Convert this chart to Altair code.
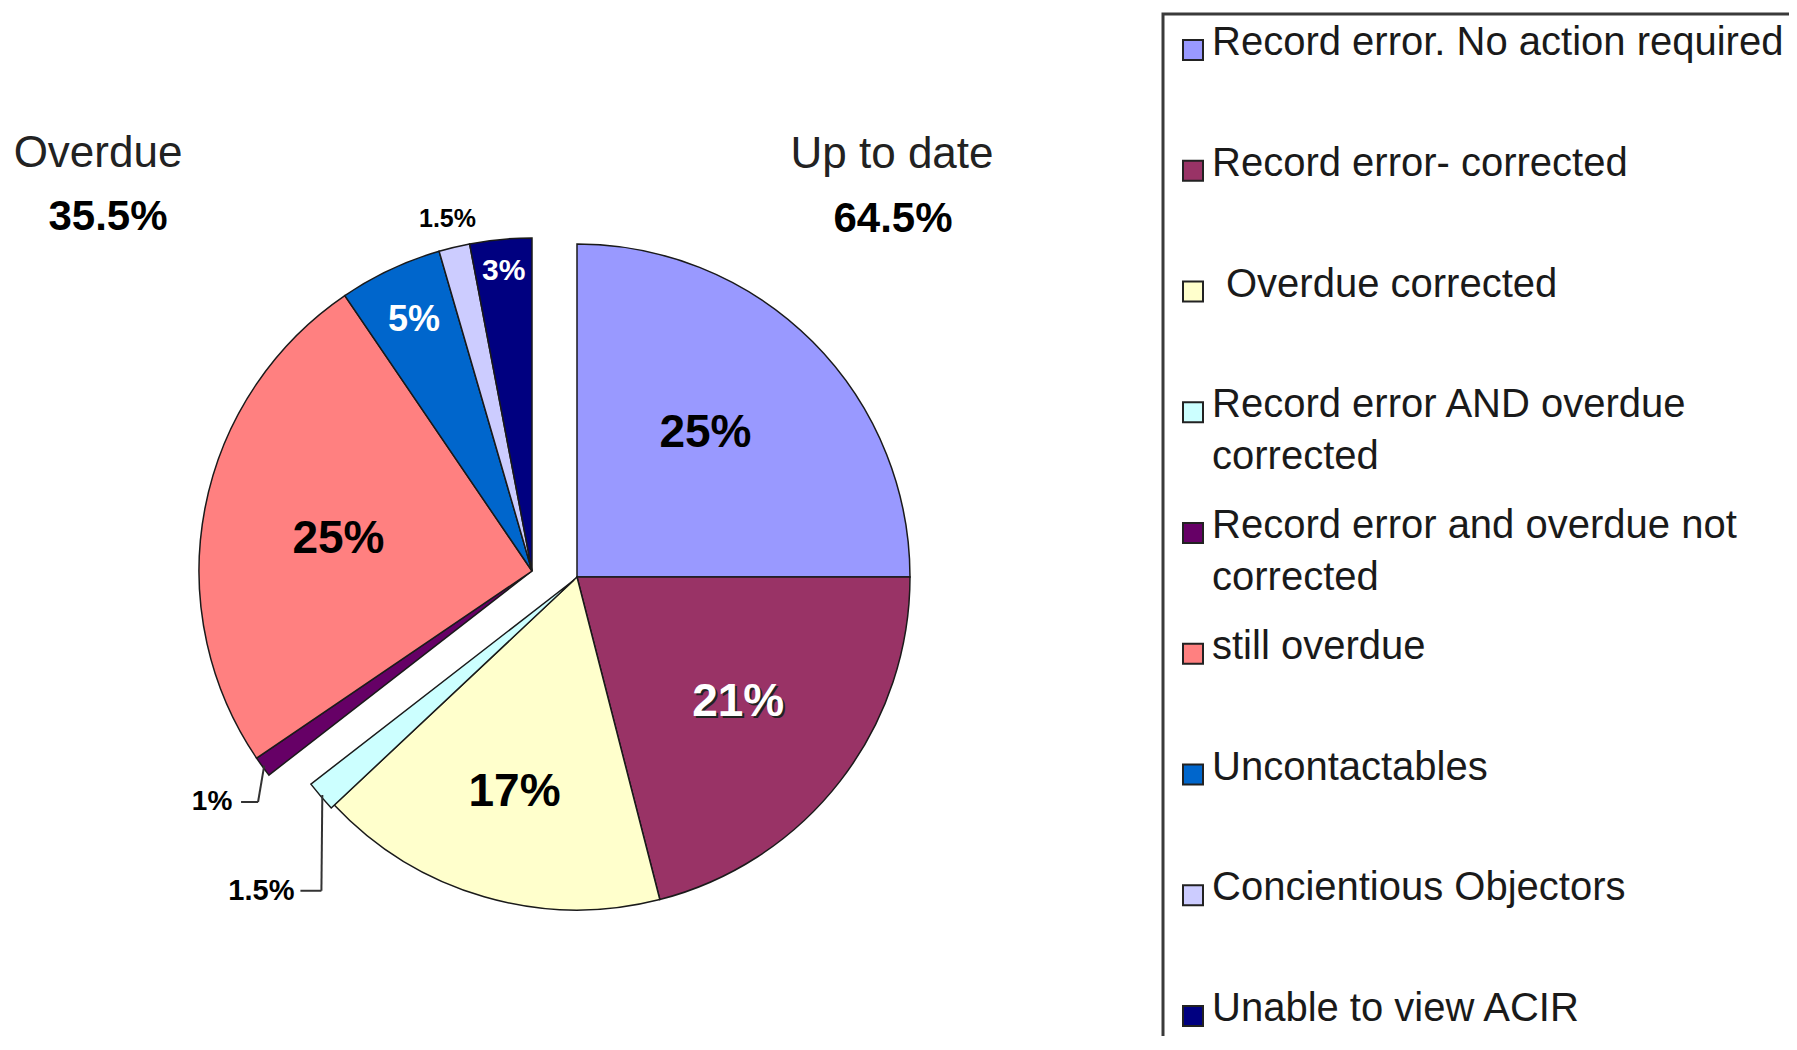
import altair as alt
import pandas as pd

# ---------------- data ----------------
categories = [
    "Record error. No action required",
    "Record error- corrected",
    "Overdue corrected",
    "Record error AND overdue corrected",
    "Record error and overdue not corrected",
    "still overdue",
    "Uncontactables",
    "Concientious Objectors",
    "Unable to view ACIR",
]
legend_labels = [
    "Record error. No action required",
    "Record error- corrected",
    "Overdue corrected",
    "Record error AND overdue\ncorrected",
    "Record error and overdue not\ncorrected",
    "still overdue",
    "Uncontactables",
    "Concientious Objectors",
    "Unable to view ACIR",
]
values = [25, 21, 17, 1.5, 1, 25, 5, 1.5, 3]
groups = ["Up to date"] * 4 + ["Overdue"] * 5
colors = ["#9999FF", "#993366", "#FFFFCC", "#CCFFFF", "#660066",
          "#FF8080", "#0066CC", "#CCCCFF", "#000080"]

df = pd.DataFrame({
    "idx": list(range(len(categories))),
    "category": categories,
    "legend": legend_labels,
    "value": values,
    "group": groups,
})

# ---------------- layout constants ----------------
W, H = 1781, 1028
UX, UY = 569, 569          # centre of "Up to date" part
OX, OY = 524, 563          # centre of exploded "Overdue" part
CX, CY = 566, 572          # centre of the slightly exploded cyan slice
R = 333
FONT = "Liberation Sans"
LEG_FONT = "Liberation Sans"

theta_scale = alt.Scale(domain=[0, 100], range=[0, 6.283185307179586])
color_scale = alt.Scale(domain=categories, range=colors)

base = (
    alt.Chart(df)
    .transform_window(cum="sum(value)", sort=[alt.SortField("idx")], frame=[None, 0])
    .transform_calculate(
        start="datum.cum - datum.value",
        mid="datum.cum - datum.value / 2",
        lbl="datum.value + '%'",
    )
)


def arcs(idxs, cx, cy):
    return base.transform_filter(
        alt.FieldOneOfPredicate(field="idx", oneOf=idxs)
    ).mark_arc(radius=R, stroke="#1a1a1a", strokeWidth=1.5).encode(
        x=alt.value(cx),
        y=alt.value(cy),
        theta=alt.Theta("start:Q", scale=theta_scale),
        theta2="cum:Q",
        color=alt.Color("category:N", scale=color_scale, legend=None),
    )


def label(idx, cx, cy, r, size, color, dx=0, dy=0):
    return base.transform_filter(alt.datum.idx == idx).mark_text(
        radius=r, fontSize=size, fontWeight="bold", font=FONT, color=color,
        dx=dx, dy=dy, align="center", baseline="middle",
    ).encode(
        x=alt.value(cx), y=alt.value(cy),
        theta=alt.Theta("mid:Q", scale=theta_scale),
        text="lbl:N",
    )


def outside(idx, cx, cy, rl, dx, dy, size, hw, gap, run):
    b = base.transform_filter(alt.datum.idx == idx).transform_calculate(
        a="datum.mid / 100 * 2 * PI",
    ).transform_calculate(
        tx=f"{cx} + {rl} * sin(datum.a) + {dx}",
        ty=f"{cy} - {rl} * cos(datum.a) + {dy}",
        ex=f"{cx} + {R - 2} * sin(datum.a)",
        ey=f"{cy} - {R - 2} * cos(datum.a)",
    ).transform_calculate(
        l0=f"datum.tx + {hw} + {gap}",
        l1=f"datum.tx + {hw} + {gap} + {run}",
    )
    txt = b.mark_text(fontSize=size, fontWeight="bold", font=FONT, color="#000",
                      align="center", baseline="middle").encode(
        x=alt.X("tx:Q", scale=None), y=alt.Y("ty:Q", scale=None), text="lbl:N")
    r1 = b.mark_rule(color="#333", strokeWidth=2).encode(
        x=alt.X("l0:Q", scale=None), x2="l1:Q",
        y=alt.Y("ty:Q", scale=None), y2="ty:Q")
    r2 = b.mark_rule(color="#333", strokeWidth=2).encode(
        x=alt.X("l1:Q", scale=None), x2="ex:Q",
        y=alt.Y("ty:Q", scale=None), y2="ey:Q")
    return [r1, r2, txt]


pie = [
    arcs([0, 1, 2], UX, UY),
    arcs([3], CX, CY),
    arcs([4, 5, 6, 7, 8], OX, OY),
]

labels = [
    label(0, UX, UY, 193, 46, "#000", dx=-8, dy=-8),
    label(1, UX + 2, UY + 2, 204, 46, "#222"),
    label(1, UX, UY, 204, 46, "#ffffff"),
    label(2, UX, UY, 224, 46, "#000"),
    label(5, OX, OY, 197, 46, "#000", dy=5),
    label(6, OX, OY, 277, 36, "#ffffff"),
    label(7, OX, OY, 362, 25, "#000"),
    label(8, OX, OY, 301, 30, "#ffffff"),
]

leaders = outside(4, OX, OY, 393, -2, 0, 28, 21, 8, 17) + \
    outside(3, CX, CY, 440, 22, 25, 29, 35, 4, 21)

# group titles
grp = alt.Chart(df).transform_aggregate(
    total="sum(value)", groupby=["group"]
).transform_calculate(tl="format(datum.total, '.1f') + '%'")


def group_title(name, x, y_name, y_tot, tot_shift):
    g = grp.transform_filter(alt.datum.group == name)
    t1 = g.mark_text(fontSize=44, font=FONT, color="#222", align="center",
                     baseline="alphabetic").encode(
        x=alt.value(x), y=alt.value(y_name), text="group:N")
    t2 = g.mark_text(fontSize=42, font=FONT, fontWeight="bold", color="#000",
                     align="center", baseline="alphabetic").encode(
        x=alt.value(x + tot_shift), y=alt.value(y_tot), text="tl:N")
    return [t1, t2]


titles = group_title("Overdue", 90, 159, 222, 10) + \
    group_title("Up to date", 884, 160, 224, 1)

# legend
leg_y = alt.Y("category:N", axis=None,
              scale=alt.Scale(type="point", domain=categories, range=[34, 1000], padding=0))
leg_box = alt.Chart(pd.DataFrame({"k": [0]})).mark_rect(
    fill="#ffffff", fillOpacity=0, stroke="#3a3a3a", strokeWidth=3).encode(
    x=alt.value(1155), x2=alt.value(W + 30), y=alt.value(6), y2=alt.value(H + 30))
leg_sq = alt.Chart(df).mark_square(size=400, stroke="#222", strokeWidth=2,
                                   opacity=1, yOffset=8).encode(
    x=alt.value(1185), y=leg_y,
    color=alt.Color("category:N", scale=color_scale, legend=None))


def leg_text(idxs, dx):
    return alt.Chart(df).transform_filter(
        alt.FieldOneOfPredicate(field="idx", oneOf=idxs)
    ).mark_text(align="left", baseline="alphabetic", dy=13, dx=dx,
                font=LEG_FONT, fontSize=40, lineHeight=52,
                lineBreak="\n", color="#1a1a1a").encode(
        x=alt.value(1204), y=leg_y, text="legend:N")


leg_tx = leg_text([0, 1, 3, 4, 5, 6, 7, 8], 0)
leg_tx2 = leg_text([2], 14)

chart = alt.layer(
    leg_box, *pie, *labels, *leaders, *titles, leg_sq, leg_tx, leg_tx2
).properties(
    width=W, height=H, padding=0,
    autosize=alt.AutoSizeParams(type="none"),
    background="#ffffff",
).configure_view(strokeWidth=0)

chart.save("out.html", embed_options={"renderer": "svg", "actions": False})
